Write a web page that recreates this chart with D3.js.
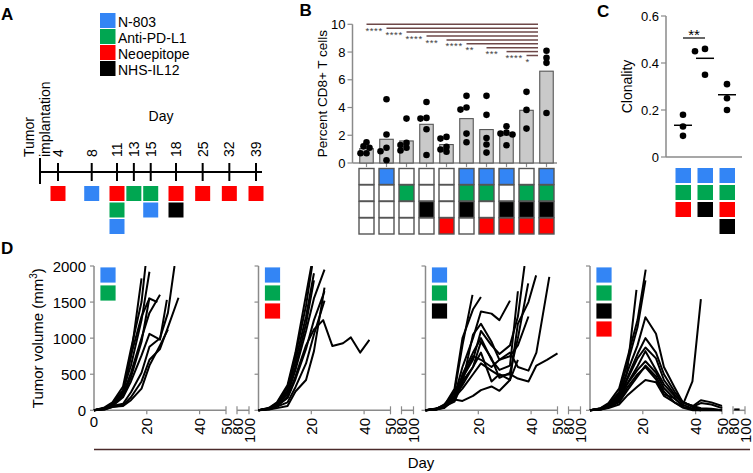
<!DOCTYPE html>
<html><head><meta charset="utf-8">
<script src="https://cdn.jsdelivr.net/npm/d3@7"></script>
<style>
body{margin:0;background:#fff;}
svg{display:block;font-family:"Liberation Sans",Arial,Helvetica,sans-serif;}
</style></head><body>
<svg id="c" width="753" height="473"></svg>
<script>
// ================= DATA =================
const treatments = ["N-803", "Anti-PD-L1", "Neoepitope", "NHS-IL12"];
const treatmentColors = ["#3385f5", "#00a651", "#ff0000", "#000000"];

// Panel A: dosing schedule
const scheduleDays = [4, 8, 11, 13, 15, 18, 25, 32, 39];
const scheduleDoses = [
  ["Neoepitope"], ["N-803"], ["Neoepitope", "Anti-PD-L1", "N-803"], ["Anti-PD-L1"],
  ["Anti-PD-L1", "N-803"], ["Neoepitope", "NHS-IL12"], ["Neoepitope"], ["Neoepitope"], ["Neoepitope"]
];

// Panel B: percent CD8+ T cells
const bRows = ["N-803", "Anti-PD-L1", "NHS-IL12", "Neoepitope"];
const bCombos = [
  [0,0,0,0],[1,0,0,0],[0,1,0,0],[0,0,1,0],[0,0,0,1],
  [1,1,1,0],[1,1,0,1],[1,0,1,1],[0,1,1,1],[1,1,1,1]
];
const bMeans = [1.04, 1.71, 1.59, 2.79, 1.33, 3.2, 2.41, 2.0, 3.8, 6.62];
const bPoints = [
  [1.5, 1.2, 1.1, 0.7, 0.7],
  [4.6, 2.05, 1.1, 0.85, 0.2],
  [3.2, 1.45, 1.3, 1.1, 0.9],
  [4.4, 3.25, 3.2, 2.43, 0.58],
  [1.88, 1.76, 1.16, 0.97, 0.82],
  [4.84, 4.0, 3.85, 2.12, 1.5],
  [4.84, 3.47, 1.8, 1.33, 0.75],
  [2.65, 2.19, 2.12, 2.05, 1.28],
  [5.13, 3.83, 2.48],
  [8.09, 7.58, 7.22, 3.61]
];
const bSigStars = ["****", "****", "****", "***", "****", "**", "***", "****", "*"];
const bTicks = [0, 2, 4, 6, 8, 10];

// Panel C: clonality
const cCombos = [
  ["N-803", "Anti-PD-L1", "Neoepitope"],
  ["N-803", "Anti-PD-L1", "NHS-IL12"],
  ["N-803", "Anti-PD-L1", "Neoepitope", "NHS-IL12"]
];
const cPoints = [[0.18, 0.13, 0.09], [0.46, 0.45, 0.35], [0.31, 0.25, 0.2]];
const cMeans = [0.135, 0.42, 0.265];
const cTicks = [0, 0.2, 0.4, 0.6];

// Panel D: tumor growth curves ([day, volume mm3])
const dCombos = [
  ["N-803", "Anti-PD-L1"],
  ["N-803", "Anti-PD-L1", "Neoepitope"],
  ["N-803", "Anti-PD-L1", "NHS-IL12"],
  ["N-803", "Anti-PD-L1", "NHS-IL12", "Neoepitope"]
];
const dYTicks = [0, 500, 1000, 1500, 2000];
const dXTicks = [20, 40, 50, 80, 100];
const dCurves1 = [
  [[0,0],[4,30],[7,80],[11,260],[14,750],[18,1830]],
  [[0,0],[4,40],[7,110],[11,330],[14,850],[18,1500],[19.5,2000]],
  [[0,0],[4,30],[7,100],[11,280],[14,620],[18,1250],[21,1920]],
  [[0,0],[4,20],[7,70],[11,200],[14,460],[18,950],[21,1560]],
  [[0,0],[4,25],[7,60],[11,180],[14,400],[18,760],[21,1060],[25,980],[27.6,1530]],
  [[0,0],[4,15],[7,60],[11,90],[14,250],[18,520],[21,880],[25,1000],[28,1350],[30.5,2000]],
  [[0,0],[4,15],[7,45],[11,70],[14,180],[18,400],[21,700],[25,850],[28,1150],[32,1560]],
  [[0,0],[4,20],[7,60],[11,220],[14,520],[18,1000],[21,1350],[25,1600]],
  [[0,0],[4,30],[7,90],[11,240],[14,760],[18,1300],[21,1550],[24,1500]],
  [[0,0],[4,10],[7,50],[11,60],[14,140],[18,300],[21,620],[25,900],[28,1120]]
];
const dCurves2 = [
  [[0,0],[4,30],[7,100],[11,320],[14,760],[18,1450],[20.3,2000]],
  [[0,0],[4,25],[7,90],[11,280],[14,680],[18,1300],[21,1900]],
  [[0,0],[4,35],[7,110],[11,350],[14,800],[18,1600],[20,2000]],
  [[0,0],[4,20],[7,70],[11,220],[14,560],[18,1100],[21,1550],[25,1950]],
  [[0,0],[4,20],[7,60],[11,170],[14,430],[18,850],[21,1250],[25,1650]],
  [[0,0],[4,15],[7,50],[11,110],[14,320],[18,650],[21,1050],[25,1520]],
  [[0,0],[4,20],[7,60],[11,180],[14,470],[18,900],[21,1120],[24.5,1250],[28,890],[32,930],[35,1010],[38.5,800],[42,975]],
  [[0,0],[4,10],[7,30],[11,60],[14,260],[18,420],[21,820],[25,1700]],
  [[0,0],[4,25],[7,80],[11,250],[14,600],[18,1200],[21,1800]]
];
const dCurves3 = [
  [[0,0],[4,20],[7,70],[11,260],[14,900],[17.8,1600]],
  [[0,0],[4,20],[7,60],[11,300],[14,1000],[18,1400],[21,1570]],
  [[0,0],[4,25],[7,60],[11,200],[14,600],[18,1000],[21,1370],[25,1340],[28,1250],[32,1520]],
  [[0,0],[4,20],[7,50],[11,150],[14,500],[18,800],[21,1000],[25,700],[28,560],[32,620],[35,1650]],
  [[0,0],[4,15],[7,60],[11,200],[14,450],[18,700],[21,1100],[25,900],[28,780],[32,900],[35,1300],[37.5,2000]],
  [[0,0],[4,10],[7,40],[11,200],[14,400],[18,600],[21,950],[25,720],[28,450],[32,520],[35,1000],[38.9,1760]],
  [[0,0],[4,20],[7,40],[11,250],[14,450],[18,750],[21,700],[25,600],[28,700],[32,800],[35,600],[39,550],[42,800],[46.9,1850]],
  [[0,0],[4,15],[7,80],[11,200],[14,350],[18,600],[21,800],[25,400],[28,500],[32,420],[35,1200],[39,1500],[41.9,1870]],
  [[0,0],[4,10],[7,30],[11,150],[14,130],[18,200],[21,280],[25,330],[28,270],[32,420],[35,700]],
  [[0,0],[4,15],[7,50],[11,180],[14,300],[18,500],[21,650],[25,550],[28,480],[32,500],[35,440],[39,400],[42,620],[46,700],[50,790]],
  [[0,0],[4,10],[7,50],[11,120],[14,380],[18,1050],[21,1200],[25,950],[28,700],[32,750],[35,900],[39,1300]]
];
const dCurves4 = [
  [[0,0],[4,20],[7,70],[11,200],[14,520],[17.6,1670]],
  [[0,0],[4,30],[7,100],[11,300],[14,700],[18,1250],[21.1,1950]],
  [[0,0],[4,25],[7,80],[11,250],[14,620],[18,1150],[21,1800]],
  [[0,0],[4,25],[7,80],[11,220],[14,520],[18,900],[21,1290],[25,1060],[28,600],[32,320],[35,120],[39,40],[42,20],[46,10],[50,0]],
  [[0,0],[4,20],[7,60],[11,160],[14,420],[18,720],[21,870],[25,720],[28,420],[32,220],[35,110],[39,60],[42,30],[46,20],[50,0]],
  [[0,0],[4,15],[7,50],[11,140],[14,360],[18,560],[21,680],[25,520],[28,310],[32,160],[35,80],[39,20],[42,0],[46,0],[50,0]],
  [[0,0],[4,10],[7,40],[11,110],[14,270],[18,470],[21,620],[25,470],[28,260],[32,110],[35,50],[39,10],[42,0]],
  [[0,0],[4,10],[7,30],[11,80],[14,200],[18,330],[21,420],[25,390],[28,200],[32,110],[35,40],[39,0],[42,0]],
  [[0,0],[4,15],[7,50],[11,120],[14,310],[18,500],[21,600],[25,430],[28,220],[32,170],[35,60],[38.8,400],[42,1540]],
  [[0,0],[4,10],[7,60],[11,180],[14,360],[18,610],[21,820],[25,560],[28,360],[32,200],[35,110],[39,60],[42,140],[46,110],[50,60]],
  [[0,0],[4,20],[7,70],[11,190],[14,440],[18,780],[21,1000],[25,800],[28,500],[32,260],[35,120],[39,50],[42,100],[46,80],[50,30]],
  [[82,12],[91,12]]
];
const dCurves = [dCurves1, dCurves2, dCurves3, dCurves4];

// ================= DRAWING =================
const svg = d3.select("#c");
const colorOf = d3.scaleOrdinal().domain(treatments).range(treatmentColors);
const axisGray = "#8a8a8a";

function panelLabel(t, x, y) {
  svg.append("text").attr("x", x).attr("y", y).attr("font-size", 17)
    .attr("font-weight", "bold").text(t);
}
function swarm(vals, yS, minD, step) {
  const placed = [];
  return vals.map(v => {
    const py = yS(v);
    const cands = [0];
    for (let k = 1; k < 8; k++) cands.push(-k * step, k * step);
    for (const dx of cands) {
      if (placed.every(p => Math.hypot(p.dx - dx, p.py - py) >= minD)) {
        placed.push({dx, py});
        return {v, dx};
      }
    }
    return {v, dx: 0};
  });
}

// ---------- Panel A ----------
panelLabel("A", 1, 19.5);
const gA = svg.append("g");
treatments.forEach((t, i) => {
  gA.append("rect").attr("x", 100).attr("y", 13 + i * 16).attr("width", 15.5).attr("height", 15)
    .attr("fill", colorOf(t));
  gA.append("text").attr("x", 118).attr("y", 27 + i * 16).attr("font-size", 14).text(t);
});
const ax = d3.scaleLinear().domain([0, 4, 18, 39]).range([40, 58, 176, 256]);
const lineY = 172;
gA.append("line").attr("x1", ax(0)).attr("x2", 262).attr("y1", lineY).attr("y2", lineY)
  .attr("stroke", "#000").attr("stroke-width", 2);
gA.append("line").attr("x1", ax(0)).attr("x2", ax(0)).attr("y1", 158).attr("y2", 184)
  .attr("stroke", "#000").attr("stroke-width", 2);
scheduleDays.forEach((d, i) => {
  gA.append("line").attr("x1", ax(d)).attr("x2", ax(d)).attr("y1", 163).attr("y2", 181)
    .attr("stroke", "#000").attr("stroke-width", 2);
  gA.append("text").attr("transform", `translate(${ax(d) + 5},157) rotate(-90)`)
    .attr("font-size", 14).text(d);
  scheduleDoses[i].forEach((t, j) => {
    gA.append("rect").attr("x", ax(d) - 7.5).attr("y", 186 + j * 16.5)
      .attr("width", 15).attr("height", 15).attr("fill", colorOf(t));
  });
});
gA.append("text").attr("transform", "translate(33.5,157) rotate(-90)").attr("font-size", 14).text("Tumor");
gA.append("text").attr("transform", "translate(50,157) rotate(-90)").attr("font-size", 14).text("implantation");
gA.append("text").attr("x", 161).attr("y", 121).attr("font-size", 14).attr("text-anchor", "middle").text("Day");

// ---------- Panel B ----------
panelLabel("B", 299.5, 15.5);
const gB = svg.append("g");
const bx = d3.scalePoint().domain(d3.range(bMeans.length)).range([366.5, 546.5]);
const by = d3.scaleLinear().domain([0, 10]).range([163, 24.3]);
const bAxisX = 352.5;
gB.append("line").attr("x1", bAxisX).attr("x2", bAxisX).attr("y1", by(10)).attr("y2", by(0))
  .attr("stroke", axisGray).attr("stroke-width", 1.5);
gB.append("line").attr("x1", bAxisX).attr("x2", 557).attr("y1", by(0)).attr("y2", by(0))
  .attr("stroke", axisGray).attr("stroke-width", 1.5);
bTicks.forEach(t => {
  gB.append("line").attr("x1", bAxisX - 5).attr("x2", bAxisX).attr("y1", by(t)).attr("y2", by(t))
    .attr("stroke", axisGray).attr("stroke-width", 1.2);
  gB.append("text").attr("x", bAxisX - 7).attr("y", by(t) + 4.5).attr("text-anchor", "end")
    .attr("font-size", 13).text(t);
});
gB.append("text").attr("transform", `translate(327,${(by(10) + by(0)) / 2}) rotate(-90)`)
  .attr("text-anchor", "middle").attr("font-size", 13.5).text("Percent CD8+ T cells");
bMeans.forEach((m, i) => {
  gB.append("line").attr("x1", bx(i)).attr("x2", bx(i)).attr("y1", by(0)).attr("y2", by(0) + 4)
    .attr("stroke", axisGray).attr("stroke-width", 1.2);
  gB.append("rect").attr("x", bx(i) - 6.75).attr("y", by(m)).attr("width", 13.5)
    .attr("height", by(0) - by(m)).attr("fill", "#c9c9c9").attr("stroke", "#555").attr("stroke-width", 1.1);
});
bPoints.forEach((pts, i) => {
  swarm(pts, by, 4.6, 3).forEach(p => {
    gB.append("circle").attr("cx", bx(i) + p.dx).attr("cy", by(p.v)).attr("r", 3.3).attr("fill", "#000");
  });
});
// significance brackets (each group vs last group)
const lastX = bx(bMeans.length - 1) - 8.5;
bSigStars.forEach((s, i) => {
  const yv = by(10) + i * 3.9;
  gB.append("line").attr("x1", bx(i)).attr("x2", lastX).attr("y1", yv).attr("y2", yv)
    .attr("stroke", "#6e4848").attr("stroke-width", 1.5);
  gB.append("text").attr("x", bx(i) - 1).attr("y", yv + 9.5).attr("font-size", 9.5)
    .attr("letter-spacing", 0.6).attr("fill", "#444").text(s);
});
// combination grid
bCombos.forEach((c, i) => {
  bRows.forEach((r, j) => {
    gB.append("rect").attr("x", bx(i) - 7.5).attr("y", 168.5 + j * 16.5)
      .attr("width", 15).attr("height", 16).attr("fill", c[j] ? colorOf(r) : "#fff")
      .attr("stroke", "#555").attr("stroke-width", 1.4);
  });
});

// ---------- Panel C ----------
panelLabel("C", 597, 17);
const gC = svg.append("g");
const cx = d3.scalePoint().domain(d3.range(cPoints.length)).range([683, 727]);
const cy = d3.scaleLinear().domain([0, 0.6]).range([157, 16]);
const cAxisX = 666;
gC.append("line").attr("x1", cAxisX).attr("x2", cAxisX).attr("y1", cy(0.6)).attr("y2", cy(0))
  .attr("stroke", axisGray).attr("stroke-width", 1.5);
gC.append("line").attr("x1", cAxisX).attr("x2", 742).attr("y1", cy(0)).attr("y2", cy(0))
  .attr("stroke", axisGray).attr("stroke-width", 1.5);
cTicks.forEach(t => {
  gC.append("line").attr("x1", cAxisX - 5).attr("x2", cAxisX).attr("y1", cy(t)).attr("y2", cy(t))
    .attr("stroke", axisGray).attr("stroke-width", 1.2);
  gC.append("text").attr("x", cAxisX - 7).attr("y", cy(t) + 4.5).attr("text-anchor", "end")
    .attr("font-size", 13).text(t === 0 ? "0" : d3.format(".1f")(t));
});
gC.append("text").attr("transform", `translate(632,${(cy(0.6) + cy(0)) / 2}) rotate(-90)`)
  .attr("text-anchor", "middle").attr("font-size", 14).text("Clonality");
cPoints.forEach((pts, i) => {
  swarm(pts, cy, 6, 5).forEach(p => {
    gC.append("circle").attr("cx", cx(i) + p.dx).attr("cy", cy(p.v)).attr("r", 3.3).attr("fill", "#000");
  });
  gC.append("line").attr("x1", cx(i) - 9).attr("x2", cx(i) + 9).attr("y1", cy(cMeans[i])).attr("y2", cy(cMeans[i]))
    .attr("stroke", "#000").attr("stroke-width", 1.5);
  cCombos[i].forEach((t, j) => {
    gC.append("rect").attr("x", cx(i) - 7.5).attr("y", 168 + j * 17)
      .attr("width", 15.5).attr("height", 15).attr("fill", colorOf(t));
  });
});
gC.append("line").attr("x1", cx(0)).attr("x2", cx(1)).attr("y1", 38).attr("y2", 38)
  .attr("stroke", "#000").attr("stroke-width", 1.2);
gC.append("text").attr("x", (cx(0) + cx(1)) / 2).attr("y", 40).attr("text-anchor", "middle")
  .attr("font-size", 15).text("**");

// ---------- Panel D ----------
panelLabel("D", 1, 254);
const gD = svg.append("g");
const dOrigins = [94, 258.5, 425.5, 590];
const dy = d3.scaleLinear().domain([0, 2000]).range([410.3, 266]);
svg.append("defs").append("clipPath").attr("id", "dclip").append("rect")
  .attr("x", 0).attr("y", dy(2000)).attr("width", 753).attr("height", 200);
dOrigins.forEach((o, k) => {
  const sx = d3.scaleLinear().domain([0, 50, 80, 100]).range([o, o + 132, o + 143, o + 155]);
  const g = gD.append("g");
  // y axis
  g.append("line").attr("x1", o).attr("x2", o).attr("y1", dy(2000)).attr("y2", dy(0))
    .attr("stroke", axisGray).attr("stroke-width", 1.5);
  dYTicks.forEach(t => {
    g.append("line").attr("x1", o - 4).attr("x2", o).attr("y1", dy(t)).attr("y2", dy(t))
      .attr("stroke", axisGray).attr("stroke-width", 1.2);
    if (k === 0) g.append("text").attr("x", o - 8).attr("y", dy(t) + 5.5).attr("text-anchor", "end")
      .attr("font-size", 15).text(t);
  });
  // x axis segments with break
  g.append("line").attr("x1", sx(0)).attr("x2", sx(50)).attr("y1", dy(0)).attr("y2", dy(0))
    .attr("stroke", axisGray).attr("stroke-width", 1.5);
  g.append("line").attr("x1", sx(80)).attr("x2", sx(100)).attr("y1", dy(0)).attr("y2", dy(0))
    .attr("stroke", axisGray).attr("stroke-width", 1.5);
  dXTicks.forEach(t => {
    const isBreak = t >= 50;
    g.append("line").attr("x1", sx(t)).attr("x2", sx(t))
      .attr("y1", isBreak ? dy(0) - 4 : dy(0)).attr("y2", dy(0) + 4)
      .attr("stroke", axisGray).attr("stroke-width", 1.2);
    g.append("text").attr("transform", `translate(${sx(t) + 5.5},418) rotate(-90)`)
      .attr("text-anchor", "end").attr("font-size", 15).text(t);
  });
  if (k === 0) g.append("text").attr("x", sx(0)).attr("y", 427).attr("text-anchor", "middle")
    .attr("font-size", 15).text("0");
  // curves
  const line = d3.line().x(d => sx(d[0])).y(d => dy(d[1]));
  g.append("g").attr("clip-path", "url(#dclip)").selectAll("path").data(dCurves[k]).join("path")
    .attr("d", line).attr("fill", "none").attr("stroke", "#000").attr("stroke-width", 2)
    .attr("stroke-linejoin", "round");
  // treatment squares
  dCombos[k].forEach((t, j) => {
    g.append("rect").attr("x", o + 6).attr("y", 267 + j * 18).attr("width", 16).attr("height", 16)
      .attr("fill", colorOf(t)).attr("stroke", "#fff").attr("stroke-width", 0.8);
  });
});
gD.append("text").attr("transform", `translate(43,${(dy(0) + dy(2000)) / 2}) rotate(-90)`)
  .attr("text-anchor", "middle").attr("font-size", 15)
  .call(t => {
    t.append("tspan").text("Tumor volume (mm");
    t.append("tspan").attr("dy", -6).attr("font-size", 10).text("3");
    t.append("tspan").attr("dy", 6).text(")");
  });
gD.append("line").attr("x1", 94).attr("x2", 750).attr("y1", 449.5).attr("y2", 449.5)
  .attr("stroke", "#4a2a2a").attr("stroke-width", 1.3);
gD.append("text").attr("x", 421).attr("y", 468).attr("text-anchor", "middle").attr("font-size", 15).text("Day");
</script>
</body></html>
